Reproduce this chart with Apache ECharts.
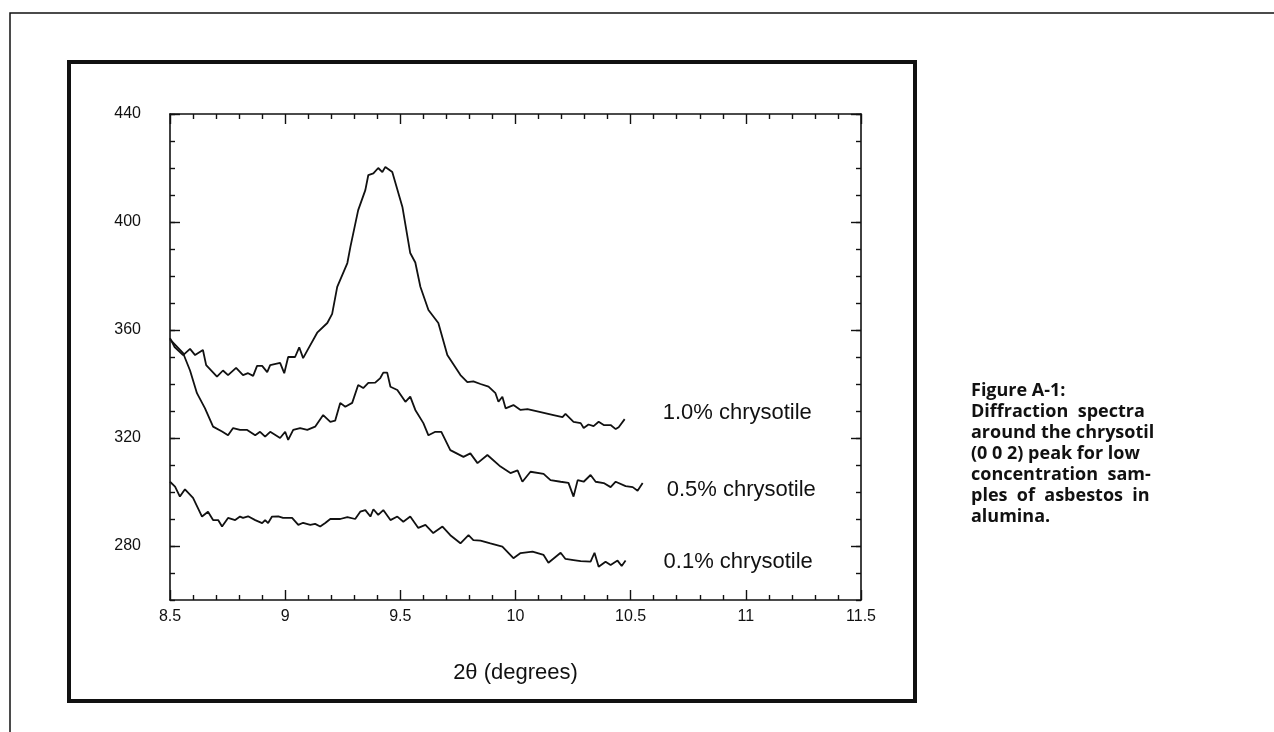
<!DOCTYPE html>
<html>
<head>
<meta charset="utf-8">
<title>Diffraction spectra</title>
<script src="https://cdn.jsdelivr.net/npm/echarts@6/dist/echarts.min.js"></script>
<style>
    html, body { margin: 0; padding: 0; background: #fff; }
    #chart { width: 1274px; height: 732px; }
</style>
</head>
<body>
<div id="chart"></div>
<script>
    // 2theta positions and counts
    var x10 = [8.5, 8.52, 8.557, 8.587, 8.609, 8.643, 8.657, 8.704, 8.73, 8.752, 8.787, 8.817, 8.839, 8.861, 8.878, 8.9, 8.922, 8.935, 8.978, 8.996,
        9.013, 9.043, 9.061, 9.078, 9.1, 9.139, 9.183, 9.204, 9.226, 9.27, 9.283, 9.317, 9.348, 9.361, 9.383, 9.404, 9.422, 9.435, 9.465, 9.509,
        9.543, 9.565, 9.587, 9.622, 9.665, 9.704, 9.761, 9.791, 9.817, 9.848, 9.883, 9.913, 9.926, 9.943, 9.957, 9.991, 10.022, 10.052, 10.109, 10.165,
        10.204, 10.217, 10.252, 10.283, 10.296, 10.317, 10.339, 10.361, 10.383, 10.413, 10.435, 10.448, 10.474];
    var y10 = [357, 353.7, 350.7, 353, 350.7, 352.6, 347, 342.7, 345, 343.3, 346, 343.3, 344, 343, 346.7, 346.7, 344.4, 347, 347.8, 344,
        350, 350, 353.6, 349.6, 353, 359, 362.6, 366, 376, 384.8, 390.7, 404.4, 411.8, 417.4, 418, 420, 418.5, 420.4, 418.5, 405.6,
        388.5, 385, 376, 367.4, 362.6, 350.7, 343.3, 340.7, 341, 340, 339, 336.6, 333.4, 335.3, 331, 332.2, 330.4, 330.7, 329.6, 328.5,
        327.7, 328.9, 326, 325.5, 323.7, 325, 324.4, 326, 324.8, 324.8, 323.3, 324, 327];

    var x05 = [8.5, 8.557, 8.587, 8.617, 8.652, 8.687, 8.726, 8.752, 8.774, 8.804, 8.835, 8.87, 8.891, 8.913, 8.935, 8.978, 9.0, 9.013, 9.035, 9.065,
        9.096, 9.13, 9.165, 9.196, 9.217, 9.239, 9.261, 9.291, 9.317, 9.339, 9.361, 9.391, 9.413, 9.426, 9.443, 9.457, 9.487, 9.522, 9.543, 9.565,
        9.6, 9.622, 9.652, 9.678, 9.717, 9.774, 9.804, 9.835, 9.878, 9.935, 9.978, 10.009, 10.03, 10.065, 10.122, 10.152, 10.196, 10.23, 10.252, 10.27,
        10.296, 10.326, 10.348, 10.383, 10.413, 10.435, 10.478, 10.509, 10.53, 10.552];
    var y05 = [356.5, 351.4, 345, 336.6, 331, 324.2, 322.4, 321, 323.7, 323, 323, 321, 322.3, 320.5, 322.3, 320, 322.3, 319.3, 323, 323.7,
        323, 324.2, 328.5, 326, 326.4, 333, 331.6, 333, 339.6, 338.5, 340.4, 340.5, 342.2, 344.2, 344.2, 339, 337.8, 333.4, 335.3, 330.4,
        325.5, 321, 322.3, 322.3, 315.5, 313, 314.3, 310.7, 313.7, 309.4, 307, 308, 303.8, 307.5, 306.7, 304.4, 303.8, 303.4, 298.3, 304.4,
        303.8, 306.3, 303.8, 303.3, 301.8, 303.8, 302.2, 301.8, 300.5, 303.3];

    var x01 = [8.5, 8.522, 8.543, 8.565, 8.6, 8.639, 8.665, 8.687, 8.709, 8.726, 8.752, 8.783, 8.804, 8.817, 8.839, 8.87, 8.9, 8.913, 8.926, 8.943,
        8.97, 8.991, 9.03, 9.057, 9.078, 9.109, 9.13, 9.152, 9.174, 9.196, 9.239, 9.27, 9.304, 9.326, 9.348, 9.37, 9.383, 9.404, 9.426, 9.457,
        9.487, 9.513, 9.543, 9.578, 9.609, 9.643, 9.683, 9.717, 9.761, 9.796, 9.817, 9.848, 9.891, 9.943, 9.991, 10.022, 10.074, 10.122, 10.143, 10.196,
        10.217, 10.252, 10.283, 10.326, 10.343, 10.361, 10.391, 10.413, 10.443, 10.461, 10.478];
    var y01 = [303.8, 302, 298.3, 301, 297.8, 290.9, 292.7, 289.6, 289.6, 287.2, 290.4, 289.6, 290.9, 290.4, 291, 289.6, 288.5, 289.6, 288.5, 290.9,
        291, 290.4, 290.4, 287.8, 288.6, 287.8, 288.2, 287.2, 288.5, 290, 290, 290.7, 290, 292.7, 293.3, 290.9, 293.6, 291.5, 293.3, 289.6,
        290.9, 289, 290.9, 286.7, 287.8, 284.8, 287.2, 284, 281, 284, 282.2, 282, 281, 279.8, 275.5, 277.4, 277.9, 276.7, 273.8, 277.5,
        275.2, 274.8, 274.4, 274.2, 277.5, 272.3, 274.2, 273, 274.6, 272.6, 274.6];

    var seriesNames = ['1.0% chrysotile', '0.5% chrysotile', '0.1% chrysotile'];
    var yMajor = [280, 320, 360, 400, 440];

    var caption = ['Figure A-1:', 'Diffraction  spectra', 'around the chrysotil', '(0 0 2) peak for low',
        'concentration  sam-', 'ples  of  asbestos  in', 'alumina.'];

    function pairs(xs, ys) {
        return xs.map(function (v, i) { return [v, ys[i]]; });
    }

    var ink = '#111';
    var labelFont = 'Liberation Sans, Arial, sans-serif';

    // major ticks + labels on one axis, 10-step minor ticks on a twin
    function yAxisOf(pos, major, showLabel) {
        var ax = {
            type: 'value',
            position: pos,
            min: 260,
            max: 440,
            axisLine: { show: major, lineStyle: { color: ink, width: 1.6 } },
            splitLine: { show: false },
            axisTick: { show: true, inside: true, length: major ? 10 : 5, lineStyle: { color: ink, width: 1.4 } },
            axisLabel: { show: false }
        };
        if (major) {
            ax.interval = 40;
            ax.axisTick.customValues = yMajor;
            ax.axisLabel = { show: showLabel, customValues: yMajor, color: ink, fontSize: 16, fontFamily: labelFont, margin: 29 };
        } else {
            ax.interval = 10;
        }
        return ax;
    }

    function xAxisOf(pos, showLabel) {
        return {
            type: 'value',
            position: pos,
            min: 8.5,
            max: 11.5,
            interval: 0.5,
            name: showLabel ? '2θ (degrees)' : '',
            nameLocation: 'middle',
            nameGap: 62,
            nameTextStyle: { color: ink, fontSize: 22, fontFamily: labelFont },
            axisLine: { show: true, lineStyle: { color: ink, width: 1.6 } },
            splitLine: { show: false },
            axisTick: { show: true, inside: true, length: 10, lineStyle: { color: ink, width: 1.4 } },
            minorTick: { show: true, splitNumber: 5, length: 5, lineStyle: { color: ink, width: 1.4 } },
            axisLabel: { show: showLabel, color: ink, fontSize: 16, fontFamily: labelFont, margin: 9 }
        };
    }

    var labelOffsets = [[30, -6], [16, 7], [30, 1]];

    function lineSeries(i, data) {
        return {
            name: seriesNames[i],
            type: 'line',
            xAxisIndex: 0,
            yAxisIndex: 0,
            data: data,
            showSymbol: false,
            silent: true,
            lineStyle: { color: ink, width: 1.8 },
            endLabel: {
                show: true,
                formatter: seriesNames[i],
                offset: labelOffsets[i],
                color: ink,
                fontSize: 22,
                fontFamily: labelFont
            }
        };
    }

    var chart = echarts.init(document.getElementById('chart'), null, { renderer: 'canvas' });

    var option = {
        backgroundColor: '#fff',
        animation: false,
        grid: { left: 170, right: 413, top: 114, bottom: 132 },
        xAxis: [xAxisOf('bottom', true), xAxisOf('top', false)],
        yAxis: [yAxisOf('left', true, true), yAxisOf('left', false, false), yAxisOf('right', true, false), yAxisOf('right', false, false)],
        series: [
            lineSeries(0, pairs(x10, y10)),
            lineSeries(1, pairs(x05, y05)),
            lineSeries(2, pairs(x01, y01))
        ],
        graphic: [
            // page frame (top and left edges only)
            { type: 'polyline', silent: true, shape: { points: [[10, 732], [10, 13], [1274, 13]] },
              style: { stroke: ink, lineWidth: 1.5, fill: null } },
            // heavy frame round the plot
            { type: 'rect', silent: true, shape: { x: 69, y: 62, width: 846, height: 639 },
              style: { stroke: ink, lineWidth: 4, fill: null } },
            { type: 'text', silent: true, left: 971, top: 380,
              style: { text: caption.join('\n'), fill: ink, font: 'bold 18px "Open Sans", sans-serif', lineHeight: 21 } }
        ]
    };

    chart.setOption(option);
</script>
</body>
</html>
